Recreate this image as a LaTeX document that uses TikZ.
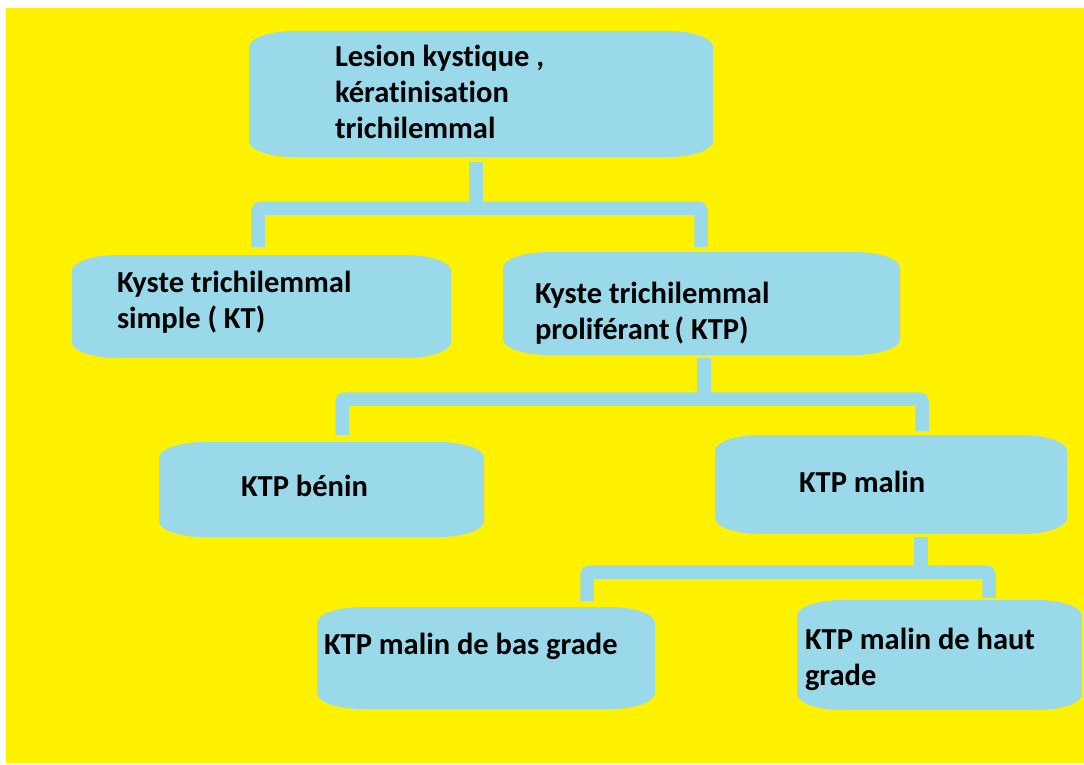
\documentclass[tikz,border=0pt]{standalone}
\usepackage{fontspec}
\setmainfont{Carlito}[Ligatures={NoCommon,NoContextual}]
\definecolor{bgyellow}{HTML}{FFF200}
\definecolor{boxblue}{HTML}{99D9EA}
\newcommand\eboxfill[1]{%
  \fill[boxblue] ([xshift=45pt]#1.north west) -- ([xshift=-45pt]#1.north east)
    arc[start angle=90, end angle=0, x radius=45pt, y radius=16pt]
    -- ([yshift=16pt]#1.south east)
    arc[start angle=0, end angle=-90, x radius=45pt, y radius=16pt]
    -- ([xshift=45pt]#1.south west)
    arc[start angle=270, end angle=180, x radius=45pt, y radius=16pt]
    -- ([yshift=-16pt]#1.north west)
    arc[start angle=180, end angle=90, x radius=45pt, y radius=16pt] -- cycle;}
\begin{document}
\begin{tikzpicture}[x=1pt,y=-1pt,
  box/.style={draw=none, inner sep=0pt, outer sep=0pt},
  lbl/.style={inner sep=0pt, outer sep=0pt, align=left, anchor=base west,
    font=\fontsize{30.5}{36}\selectfont\bfseries, text=black},
  conn/.style={draw=boxblue, line width=13.5pt, rounded corners=3pt}
]
\useasboundingbox (0,0) rectangle (1084,765);
\fill[white] (0,0) rectangle (1084,765);
\fill[bgyellow] (6,8) rectangle (1084,763);

% boxes
\node[box, minimum width=464pt, minimum height=126pt] (top) at (481,94) {};
\node[box, minimum width=379pt, minimum height=103pt] (kt) at (261.5,306.5) {};
\node[box, minimum width=397pt, minimum height=103pt] (ktp) at (701.5,303.5) {};
\node[box, minimum width=325pt, minimum height=95pt] (benin) at (321.5,489.5) {};
\node[box, minimum width=352pt, minimum height=99pt] (malin) at (891,484.5) {};
\node[box, minimum width=338pt, minimum height=102pt] (bas) at (486,658) {};
\node[box, minimum width=285pt, minimum height=110pt] (haut) at (939.5,655) {};
\eboxfill{top}\eboxfill{kt}\eboxfill{ktp}\eboxfill{benin}\eboxfill{malin}\eboxfill{bas}\eboxfill{haut}

% labels (anchor = baseline of the last line)
\node[lbl] (ttop) at (335,139) {Lesion kystique ,\\kératinisation\\trichilemmal};
\node[lbl] (tkt) at (117,328) {Kyste trichilemmal\\simple ( KT)};
\node[lbl] (tktp) at (535,339) {Kyste trichilemmal\\proliférant\,( KTP)};
\node[lbl] (tbenin) at (241,496) {KTP bénin};
\node[lbl] (tmalin) at (799,492) {KTP malin};
\node[lbl] (tbas) at (324,654) {KTP malin de bas grade};
\node[lbl] (thaut) at (805,685) {KTP malin de haut\\grade};

% junction coordinates
\coordinate (j1) at (476,208);
\coordinate (j2) at (704,399);
\coordinate (j3) at (921,572);

% connectors
\draw[conn, rounded corners=0pt] ([yshift=-5pt]top.south -| j1) -- (j1);
\draw[conn] ([yshift=8pt]kt.north -| 258,0) -- (258,208) -- (701,208) -- ([yshift=5pt]ktp.north -| 701,0);

\draw[conn, rounded corners=0pt] ([yshift=-3pt]ktp.south -| j2) -- (j2);
\draw[conn] ([yshift=7pt]benin.north -| 342,0) -- (342,399) -- (922,399) -- ([yshift=4pt]malin.north -| 922,0);

\draw[conn, rounded corners=0pt] ([yshift=-3pt]malin.south -| j3) -- (j3);
\draw[conn] ([yshift=6pt]bas.north -| 587,0) -- (587,572) -- (989,572) -- ([yshift=2pt]haut.north -| 989,0);
\end{tikzpicture}
\end{document}
